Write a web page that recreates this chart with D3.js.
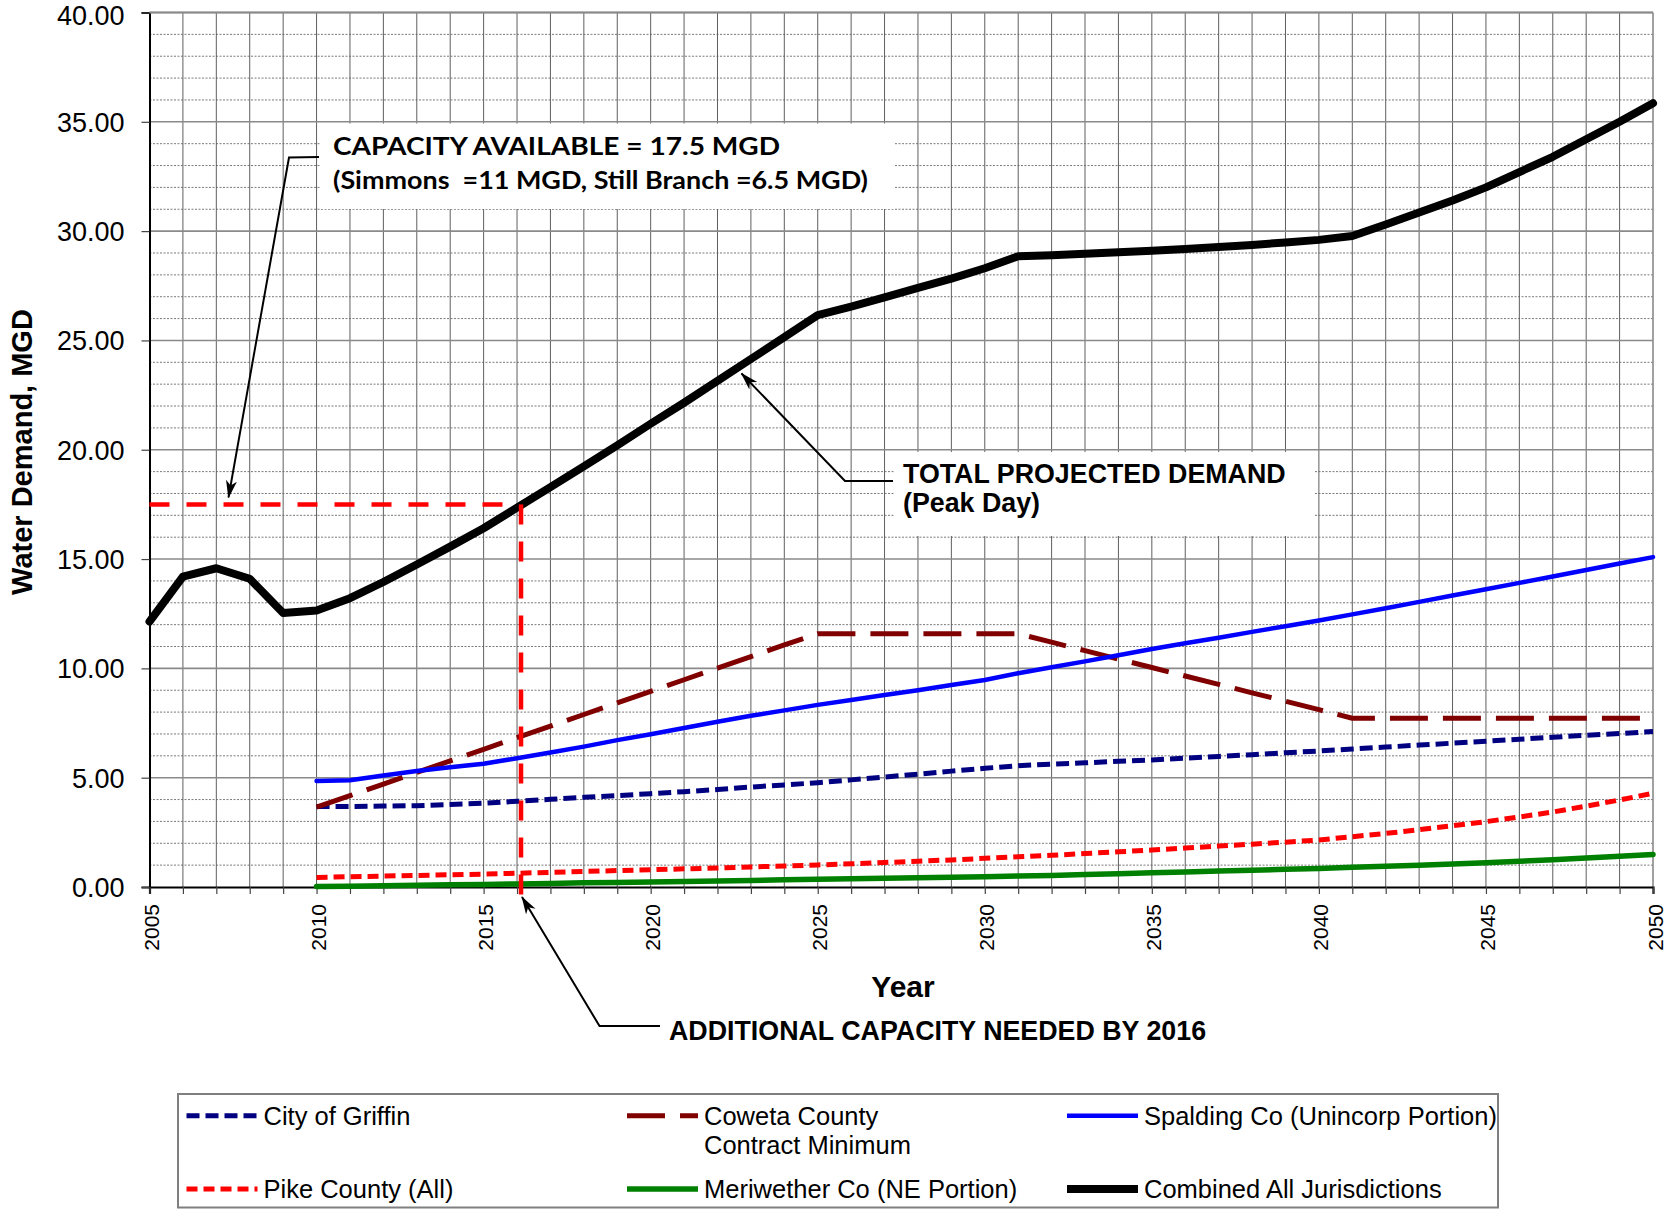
<!DOCTYPE html>
<html>
<head>
<meta charset="utf-8">
<script src="https://cdn.jsdelivr.net/npm/d3@7/dist/d3.min.js"></script>
<style>
  html, body { margin: 0; padding: 0; background: #fff; }
  svg { display: block; }
</style>
</head>
<body>
<svg id="chart" width="1673" height="1209"></svg>
<script>
// ---- Data: projected peak-day water demand, MGD ----
const years = [2005, 2006, 2007, 2008, 2009, 2010, 2011, 2012, 2013, 2014,
               2015, 2016, 2017, 2018, 2019, 2020, 2021, 2022, 2023, 2024,
               2025, 2026, 2027, 2028, 2029, 2030, 2031, 2032, 2033, 2034,
               2035, 2036, 2037, 2038, 2039, 2040, 2041, 2042, 2043, 2044,
               2045, 2046, 2047, 2048, 2049, 2050];

const cityOfGriffin = [null, null, null, null, null,
  3.68, 3.68, 3.70, 3.72, 3.77, 3.83, 3.92, 4.01, 4.10, 4.18,
  4.27, 4.36, 4.46, 4.57, 4.67, 4.77, 4.90, 5.03, 5.16, 5.30,
  5.43, 5.55, 5.62, 5.68, 5.75, 5.81, 5.89, 5.97, 6.05, 6.14,
  6.22, 6.31, 6.40, 6.49, 6.58, 6.67, 6.76, 6.85, 6.94, 7.02, 7.11];

const cowetaContractMin = [null, null, null, null, null,
  3.65, 4.18, 4.71, 5.24, 5.77, 6.30, 6.83, 7.36, 7.89, 8.42,
  8.95, 9.48, 10.01, 10.54, 11.07, 11.58, 11.58, 11.58, 11.58, 11.58,
  11.58, 11.58, 11.20, 10.81, 10.42, 10.04, 9.65, 9.27, 8.88, 8.50,
  8.11, 7.72, 7.72, 7.72, 7.72, 7.72, 7.72, 7.72, 7.72, 7.72, 7.72];

const spaldingUnincorp = [null, null, null, null, null,
  4.85, 4.88, 5.10, 5.31, 5.48, 5.64, 5.89, 6.15, 6.42, 6.72,
  6.99, 7.27, 7.56, 7.83, 8.08, 8.33, 8.55, 8.78, 9.00, 9.24,
  9.47, 9.78, 10.05, 10.32, 10.60, 10.89, 11.15, 11.40, 11.67, 11.93,
  12.19, 12.47, 12.75, 13.04, 13.33, 13.62, 13.91, 14.20, 14.50, 14.80, 15.09];

const pikeCounty = [null, null, null, null, null,
  0.44, 0.47, 0.50, 0.53, 0.56, 0.59, 0.63, 0.67, 0.71, 0.75,
  0.79, 0.83, 0.87, 0.92, 0.96, 1.01, 1.06, 1.12, 1.18, 1.24,
  1.31, 1.38, 1.45, 1.53, 1.61, 1.69, 1.78, 1.87, 1.96, 2.05,
  2.15, 2.30, 2.45, 2.62, 2.80, 2.99, 3.20, 3.43, 3.70, 3.98, 4.29];

const meriwetherNE = [null, null, null, null, null,
  0.02, 0.04, 0.06, 0.08, 0.10, 0.12, 0.14, 0.16, 0.19, 0.21,
  0.23, 0.25, 0.27, 0.30, 0.33, 0.36, 0.38, 0.40, 0.42, 0.45,
  0.47, 0.50, 0.53, 0.57, 0.61, 0.65, 0.69, 0.73, 0.77, 0.81,
  0.85, 0.90, 0.95, 1.00, 1.05, 1.11, 1.18, 1.25, 1.33, 1.41, 1.49];

const combinedAll = [
  12.14, 14.20, 14.58, 14.10, 12.53,
  12.65, 13.21, 13.95, 14.75, 15.57, 16.41, 17.35, 18.29, 19.24, 20.20,
  21.19, 22.15, 23.15, 24.15, 25.15, 26.16, 26.55, 26.97, 27.40, 27.83,
  28.30, 28.85, 28.90, 28.96, 29.03, 29.10, 29.18, 29.27, 29.37, 29.48,
  29.60, 29.78, 30.30, 30.85, 31.40, 32.00, 32.70, 33.40, 34.20, 35.00, 35.85];

const yTickValues = [0, 5, 10, 15, 20, 25, 30, 35, 40];
const yTickLabels = ["0.00", "5.00", "10.00", "15.00", "20.00", "25.00", "30.00", "35.00", "40.00"];
const xLabelYears = [2005, 2010, 2015, 2020, 2025, 2030, 2035, 2040, 2045, 2050];

const capacityAvailable = 17.5;   // MGD
const capacityNeededYear = 2016;

const seriesNames = ["City of Griffin", "Coweta County|Contract Minimum", "Spalding Co (Unincorp Portion)",
                     "Pike County (All)", "Meriwether Co (NE Portion)", "Combined All Jurisdictions"];

// ---- Styling per series ----
const seriesStyle = [
  { values: cityOfGriffin,     color: "#000080", width: 5,   dash: "13,6" },
  { values: cowetaContractMin, color: "#800000", width: 5,   dash: "38,15" },
  { values: spaldingUnincorp,  color: "#0000FF", width: 4.5, dash: null },
  { values: pikeCounty,        color: "#FF0000", width: 5,   dash: "11,6" },
  { values: meriwetherNE,      color: "#008000", width: 5.5, dash: null },
  { values: combinedAll,       color: "#000000", width: 8,   dash: null }
];

// ---- Scales ----
const svg = d3.select("#chart");
const x = d3.scaleLinear().domain([2005, 2050]).range([149.5, 1653]);
const y = d3.scaleLinear().domain([0, 40]).range([887, 12.5]);
const plotLeft = x.range()[0], plotRight = x.range()[1];
const plotTop = y.range()[1], plotBottom = y.range()[0];

const fontArial = "'Liberation Sans', Arial, sans-serif";

// ---- Grid ----
const grid = svg.append("g");
// minor horizontal (dotted) every 1 MGD
grid.selectAll("line.hminor")
  .data(d3.range(1, 40).filter(v => v % 5 !== 0))
  .join("line")
  .attr("x1", plotLeft).attr("x2", plotRight)
  .attr("y1", d => y(d)).attr("y2", d => y(d))
  .attr("stroke", "#7a7a7a").attr("stroke-width", 1)
  .attr("stroke-dasharray", "2,1.5");
// vertical gridlines every year
grid.selectAll("line.v")
  .data(years.slice(1, -1))
  .join("line")
  .attr("x1", d => x(d)).attr("x2", d => x(d))
  .attr("y1", plotTop).attr("y2", plotBottom)
  .attr("stroke", "#5f5f5f").attr("stroke-width", 1);
// major horizontal (solid) every 5 MGD
grid.selectAll("line.hmajor")
  .data(yTickValues.slice(1))
  .join("line")
  .attr("x1", plotLeft).attr("x2", plotRight)
  .attr("y1", d => y(d)).attr("y2", d => y(d))
  .attr("stroke", "#8a8a8a").attr("stroke-width", 1.6);
// right border
grid.append("line")
  .attr("x1", plotRight).attr("x2", plotRight).attr("y1", plotTop).attr("y2", plotBottom)
  .attr("stroke", "#8a8a8a").attr("stroke-width", 1.6);

// ---- Callout boxes (white, hide the grid beneath the text) ----
svg.append("rect").attr("x", 320).attr("y", 123.5).attr("width", 574).attr("height", 85.5).attr("fill", "#fff");
svg.append("rect").attr("x", 895).attr("y", 452).attr("width", 420).attr("height", 84).attr("fill", "#fff");

// ---- Axes ----
const yAxis = d3.axisLeft(y)
  .tickValues(yTickValues)
  .tickFormat((d, i) => yTickLabels[i])
  .tickSize(8).tickPadding(17);
const gy = svg.append("g").attr("transform", `translate(${plotLeft},0)`).call(yAxis);
gy.select(".domain").attr("stroke", "#000").attr("stroke-width", 2);
gy.selectAll(".tick line").attr("stroke", "#444").attr("stroke-width", 1.2);
gy.selectAll(".tick text")
  .attr("font-family", fontArial).attr("font-size", 27).attr("fill", "#000")
  .attr("dy", d => d === 40 ? "0.44em" : "0.35em");

const xAxis = d3.axisBottom(x)
  .tickValues(years)
  .tickFormat(d => xLabelYears.includes(d) ? String(d) : "")
  .tickSize(7).tickPadding(0);
const gx = svg.append("g").attr("transform", `translate(0,${plotBottom})`).call(xAxis);
gx.select(".domain").attr("stroke", "#000").attr("stroke-width", 2.2);
gx.selectAll(".tick line").attr("stroke", "#444").attr("stroke-width", 1.2);
gx.selectAll(".tick text")
  .attr("font-family", fontArial).attr("font-size", 21).attr("fill", "#000")
  .attr("text-anchor", "end")
  .attr("dy", null)
  .attr("y", null)
  .attr("dominant-baseline", "central")
  .attr("transform", "translate(1.5,17) rotate(-90)");

// top border
svg.append("line").attr("x1", plotLeft).attr("x2", plotRight).attr("y1", plotTop).attr("y2", plotTop)
  .attr("stroke", "#8a8a8a").attr("stroke-width", 2);

// ---- Axis titles ----
svg.append("text")
  .attr("transform", `translate(32,452) rotate(-90)`)
  .attr("text-anchor", "middle")
  .attr("font-family", fontArial).attr("font-weight", "bold").attr("font-size", 29)
  .text("Water Demand, MGD");

svg.append("text")
  .attr("x", 903).attr("y", 996.5)
  .attr("text-anchor", "middle")
  .attr("font-family", fontArial).attr("font-weight", "bold").attr("font-size", 30)
  .text("Year");

// ---- Series lines ----
const lineGen = d3.line()
  .defined(d => d != null)
  .x((d, i) => x(years[i]))
  .y(d => y(d))
  .curve(d3.curveLinear);

const seriesLayer = svg.append("g").attr("fill", "none").attr("stroke-linejoin", "round");
seriesStyle.forEach(s => {
  seriesLayer.append("path")
    .attr("d", lineGen(s.values))
    .attr("stroke", s.color)
    .attr("stroke-width", s.width)
    .attr("stroke-dasharray", s.dash)
    .attr("stroke-linecap", s.dash ? "butt" : "round");
});

// ---- Capacity lines (red dashed) ----
const redDash = "20,17";
svg.append("line")
  .attr("x1", x(2005)).attr("x2", x(capacityNeededYear) + 2)
  .attr("y1", y(capacityAvailable)).attr("y2", y(capacityAvailable))
  .attr("stroke", "#FF0000").attr("stroke-width", 4.5).attr("stroke-dasharray", redDash);
svg.append("line")
  .attr("x1", x(capacityNeededYear) + 4).attr("x2", x(capacityNeededYear) + 4)
  .attr("y1", y(capacityAvailable)).attr("y2", plotBottom + 9)
  .attr("stroke", "#FF0000").attr("stroke-width", 4.5).attr("stroke-dasharray", redDash);

// ---- Leader arrows ----
const defs = svg.append("defs");
defs.append("marker")
  .attr("id", "arrow")
  .attr("markerUnits", "userSpaceOnUse")
  .attr("viewBox", "0 0 18 12")
  .attr("markerWidth", 18).attr("markerHeight", 12)
  .attr("refX", 17).attr("refY", 6)
  .attr("orient", "auto")
  .append("path")
  .attr("d", "M0,0.5 L18,6 L0,11.5 L5,6 Z")
  .attr("fill", "#000");

function leader(points) {
  svg.append("path")
    .attr("d", d3.line()(points))
    .attr("fill", "none").attr("stroke", "#000").attr("stroke-width", 2)
    .attr("marker-end", "url(#arrow)");
}
// capacity available -> red horizontal line
leader([[319, 157], [289, 157.5], [228.5, y(capacityAvailable) - 7]]);
// total projected demand -> combined line
leader([[893, 481], [845, 481], [741.5, 373.5]]);
// additional capacity -> red vertical line
leader([[660, 1026], [599.5, 1026], [x(capacityNeededYear) + 5, plotBottom + 10]]);

// ---- Annotation text ----
const fontCallout = "Lato, 'Open Sans', sans-serif";
svg.append("text")
  .attr("x", 333).attr("y", 155)
  .attr("font-family", fontCallout).attr("font-weight", "bold").attr("font-size", 25.5)
  .attr("textLength", 447).attr("lengthAdjust", "spacingAndGlyphs")
  .text("CAPACITY AVAILABLE = 17.5 MGD");
svg.append("text")
  .attr("x", 333).attr("y", 188.5)
  .attr("font-family", fontCallout).attr("font-weight", "bold").attr("font-size", 25.5)
  .attr("textLength", 535).attr("lengthAdjust", "spacingAndGlyphs")
  .style("white-space", "pre")
  .text("(Simmons  =11 MGD, Still Branch =6.5 MGD)");

svg.append("text")
  .attr("x", 903).attr("y", 482.5)
  .attr("font-family", fontArial).attr("font-weight", "bold").attr("font-size", 26.8)
  .text("TOTAL PROJECTED DEMAND");
svg.append("text")
  .attr("x", 903).attr("y", 511.5)
  .attr("font-family", fontArial).attr("font-weight", "bold").attr("font-size", 26.8)
  .text("(Peak Day)");

svg.append("text")
  .attr("x", 669).attr("y", 1040)
  .attr("font-family", fontArial).attr("font-weight", "bold").attr("font-size", 26.8)
  .text("ADDITIONAL CAPACITY NEEDED BY 2016");

// ---- Legend ----
const legend = svg.append("g");
legend.append("rect")
  .attr("x", 178).attr("y", 1094).attr("width", 1320).attr("height", 113.5)
  .attr("fill", "#fff").attr("stroke", "#7f7f7f").attr("stroke-width", 2);

const legendCols = [186.5, 627, 1067];
const legendRows = [1115.7, 1189];
seriesStyle.forEach((s, i) => {
  const cx = legendCols[i % 3];
  const cy = legendRows[Math.floor(i / 3)];
  legend.append("line")
    .attr("x1", cx).attr("x2", cx + 71)
    .attr("y1", cy).attr("y2", cy)
    .attr("stroke", s.color).attr("stroke-width", s.width)
    .attr("stroke-dasharray", s.dash)
    .attr("stroke-linecap", "butt");
  const nameLines = seriesNames[i].split("|");
  const t = legend.append("text")
    .attr("font-family", fontArial).attr("font-size", 25.5).attr("fill", "#000");
  nameLines.forEach((ln, j) => {
    t.append("tspan").attr("x", cx + 77).attr("y", cy + 8.8 + j * 29.3).text(ln);
  });
});
</script>
</body>
</html>
